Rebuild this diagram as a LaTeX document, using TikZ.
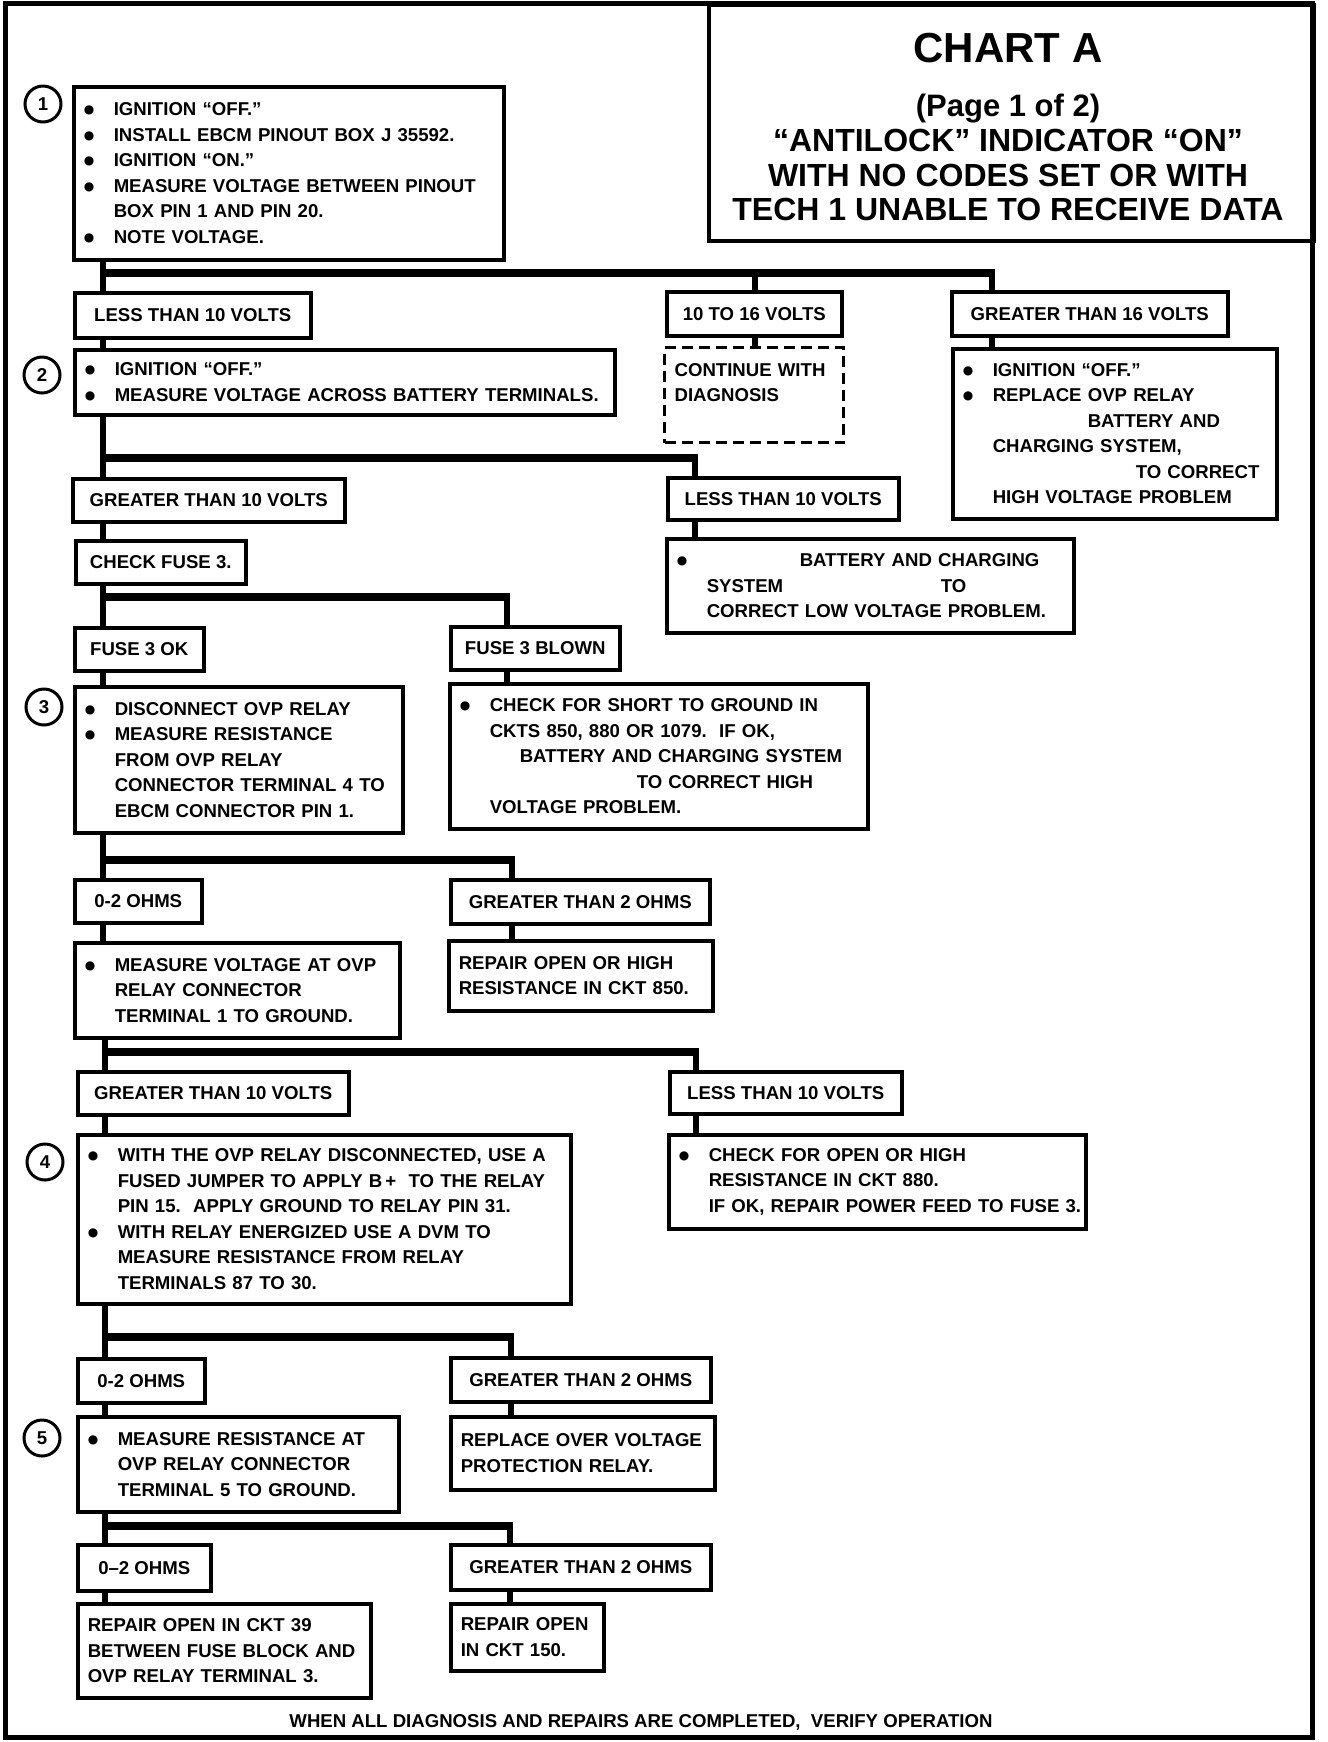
\documentclass[tikz,border=0pt]{standalone}
\usepackage{fontspec}
\setmainfont{Liberation Sans}
\newfontfamily\dejavu{DejaVu Sans}
\usetikzlibrary{calc}
\newcommand\BL[1]{\mbox{\makebox[15pt][l]{\raisebox{1pt}{\dejavu\fontsize{6}{6}\selectfont ●}}#1}}
\newcommand\CL[1]{\mbox{\hspace{15pt}#1}}
\newcommand\bx[7]{%
  \pgfmathsetlengthmacro\bxw{(#5-#3)*0.5pt}%
  \pgfmathsetlengthmacro\bxh{(#6-#4)*0.5pt}%
  \pgfmathsetlengthmacro\bxt{(#5-#3)*0.5pt-10pt}%
  \node[#2, anchor=north west, minimum width=\bxw, minimum height=\bxh, text width=\bxt] (#1) at (#3,#4) {#7};}
\newcommand\lb[6]{%
  \pgfmathsetlengthmacro\bxw{(#4-#2)*0.5pt}%
  \pgfmathsetlengthmacro\bxh{(#5-#3)*0.5pt}%
  \node[lbl, anchor=north west, minimum width=\bxw, minimum height=\bxh] (#1) at (#2,#3) {#6};}
\begin{document}
\begin{tikzpicture}[x=0.5pt,y=-0.5pt,
  every node/.style={font=\bfseries\fontsize{9.3}{12.75}\selectfont},
  box/.style={draw, line width=1.75pt, inner xsep=5pt, inner ysep=0pt, align=left},
  dbox/.style={box, dash pattern=on 5.5pt off 3pt, line width=1.6pt},
  lbl/.style={draw, line width=1.75pt, inner sep=0pt, align=center},
  num/.style={circle, draw, line width=1.5pt, minimum size=18pt, inner sep=0pt},
  vc/.style={line width=3.4pt},
  hb/.style={line width=4pt},
  frame/.style={line width=2.5pt},
  tbox/.style={draw, line width=2pt, inner sep=0pt}]
\useasboundingbox (0,0) rectangle (1328,1742);
\fill[white] (0,0) rectangle (1328,1742);
\draw[frame] (5,3) rectangle (1312,1737);

% title
\node[tbox, anchor=north west, minimum width=302.5pt, minimum height=118pt] (title) at (707,3) {};
\node[anchor=base, font=\bfseries\fontsize{21}{21}\selectfont] (t1) at (1008,62) {CHART A};
\node[anchor=base, font=\bfseries\fontsize{15.5}{15.5}\selectfont] (t2) at (1008,116) {(Page 1 of 2)};
\node[anchor=base, font=\bfseries\fontsize{16}{16}\selectfont] (t3) at (1008,151) {“ANTILOCK” INDICATOR “ON”};
\node[anchor=base, font=\bfseries\fontsize{16}{16}\selectfont] (t4) at (1008,186) {WITH NO CODES SET OR WITH};
\node[anchor=base, font=\bfseries\fontsize{16}{16}\selectfont] (t5) at (1008,220) {TECH 1 UNABLE TO RECEIVE DATA};

% step numbers
\node[num] (n1) at (43,104) {1};
\node[num] (n2) at (42,375) {2};
\node[num] (n3) at (44,707) {3};
\node[num] (n4) at (45,1162) {4};
\node[num] (n5) at (42,1438) {5};

% boxes
\bx{b1}{box}{72}{85}{502}{258}{\BL{IGNITION “OFF.”}\\ \BL{INSTALL EBCM PINOUT BOX J 35592.}\\ \BL{IGNITION “ON.”}\\ \BL{MEASURE VOLTAGE BETWEEN PINOUT}\\ \CL{BOX PIN 1 AND PIN 20.}\\ \BL{NOTE VOLTAGE.}}
\lb{lt10a}{73}{291}{309}{336}{LESS THAN 10 VOLTS}
\lb{v1016}{665}{290}{840}{334}{10 TO 16 VOLTS}
\lb{gt16}{950}{290}{1226}{334}{GREATER THAN 16 VOLTS}
\bx{cont}{dbox}{663}{346}{842}{441}{CONTINUE WITH\\DIAGNOSIS\\~}
\bx{gt16b}{box}{951}{347}{1275}{517}{\BL{IGNITION “OFF.”}\\ \BL{REPLACE OVP RELAY}\\ \CL{\hspace{47.5pt}BATTERY AND}\\ \CL{CHARGING SYSTEM,}\\ \CL{\hspace{71.5pt}TO CORRECT}\\ \CL{HIGH VOLTAGE PROBLEM}}
\bx{b2}{box}{73}{348}{613}{413}{\BL{IGNITION “OFF.”}\\ \BL{MEASURE VOLTAGE ACROSS BATTERY TERMINALS.}}
\lb{gt10a}{71}{477}{343}{520}{GREATER THAN 10 VOLTS}
\lb{lt10b}{666}{476}{897}{518}{LESS THAN 10 VOLTS}
\bx{lowb}{box}{665}{537}{1072}{631}{\BL{\hspace{46.5pt}BATTERY AND CHARGING}\\ \CL{\makebox[117pt][l]{SYSTEM}TO}\\ \CL{CORRECT LOW VOLTAGE PROBLEM.}}
\lb{fuse}{74}{539}{244}{582}{CHECK FUSE 3.}
\lb{f3ok}{73}{626}{202}{669}{FUSE 3 OK}
\lb{f3bl}{449}{625}{618}{668}{FUSE 3 BLOWN}
\bx{b3}{box}{73}{685}{401}{831}{\BL{DISCONNECT OVP RELAY}\\ \BL{MEASURE RESISTANCE}\\ \CL{FROM OVP RELAY}\\ \CL{CONNECTOR TERMINAL 4 TO}\\ \CL{EBCM CONNECTOR PIN 1.}}
\bx{blown}{box}{448}{682}{866}{827}{\BL{CHECK FOR SHORT TO GROUND IN}\\ \CL{CKTS 850, 880 OR 1079.\ \ IF OK,}\\ \CL{\hspace{15pt}BATTERY AND CHARGING SYSTEM}\\ \CL{\hspace{73.5pt}TO CORRECT HIGH}\\ \CL{VOLTAGE PROBLEM.}}
\lb{ohm1}{73}{878}{200}{921}{0-2 OHMS}
\lb{gt2a}{449}{878}{708}{922}{GREATER THAN 2 OHMS}
\bx{vb}{box}{73}{941}{398}{1036}{\BL{MEASURE VOLTAGE AT OVP}\\ \CL{RELAY CONNECTOR}\\ \CL{TERMINAL 1 TO GROUND.}}
\bx{r850}{box}{447}{939}{711}{1009}{REPAIR OPEN OR HIGH\\RESISTANCE IN CKT 850.}
\lb{gt10b}{76}{1070}{347}{1113}{GREATER THAN 10 VOLTS}
\lb{lt10c}{668}{1070}{900}{1112}{LESS THAN 10 VOLTS}
\bx{b4}{box}{76}{1133}{569}{1302}{\BL{WITH THE OVP RELAY DISCONNECTED, USE A}\\ \CL{FUSED JUMPER TO APPLY B\,+\ \ TO THE RELAY}\\ \CL{PIN 15.\ \ APPLY GROUND TO RELAY PIN 31.}\\ \BL{WITH RELAY ENERGIZED USE A DVM TO}\\ \CL{MEASURE RESISTANCE FROM RELAY}\\ \CL{TERMINALS 87 TO 30.}}
\bx{openb}{box}{667}{1133}{1084}{1227}{\BL{CHECK FOR OPEN OR HIGH}\\ \CL{RESISTANCE IN CKT 880.}\\ \CL{IF OK, REPAIR POWER FEED TO FUSE 3.}}
\lb{ohm2}{76}{1357}{203}{1401}{0-2 OHMS}
\lb{gt2b}{449}{1356}{709}{1400}{GREATER THAN 2 OHMS}
\bx{b5}{box}{76}{1415}{397}{1510}{\BL{MEASURE RESISTANCE AT}\\ \CL{OVP RELAY CONNECTOR}\\ \CL{TERMINAL 5 TO GROUND.}}
\bx{repl}{box}{449}{1415}{713}{1488}{REPLACE OVER VOLTAGE\\PROTECTION RELAY.}
\lb{ohm3}{76}{1543}{209}{1589}{0–2 OHMS}
\lb{gt2c}{449}{1543}{709}{1588}{GREATER THAN 2 OHMS}
\bx{r39}{box}{76}{1602}{369}{1696}{REPAIR OPEN IN CKT 39\\BETWEEN FUSE BLOCK AND\\OVP RELAY TERMINAL 3.}
\bx{r150}{box}{449}{1602}{602}{1669}{REPAIR OPEN\\IN CKT 150.}

\node[anchor=base] (foot) at (641,1727) {WHEN ALL DIAGNOSIS AND REPAIRS ARE COMPLETED,\ \ VERIFY OPERATION};

% connector coordinates
\coordinate (tA) at (103,0);
\coordinate (tB) at (105,0);
\coordinate (j1) at (103,273);
\coordinate (j2) at (103,458);
\coordinate (j3) at (103,597);
\coordinate (j4) at (103,860);
\coordinate (j5) at (105,1052);
\coordinate (j6) at (105,1337);
\coordinate (j7) at (105,1526);
\coordinate (d1b) at (755,0);
\coordinate (d1c) at (992,0);
\coordinate (d2) at (695,0);
\coordinate (d3) at (507,0);
\coordinate (d4) at (512,0);
\coordinate (d5) at (696,0);
\coordinate (d6) at (511,0);
\coordinate (d7) at (510,0);

% section 1
\draw[vc] (b1.south -| tA) -- (lt10a.north -| tA);
\draw[hb] (j1) -- (j1 -| d1c);
\draw[vc] (j1 -| d1b) -- (v1016.north -| d1b);
\draw[vc] ([yshift=2pt]j1 -| d1c) -- (gt16.north -| d1c);
\draw[vc] (v1016.south -| d1b) -- (cont.north -| d1b);
\draw[vc] (gt16.south -| d1c) -- (gt16b.north -| d1c);
\draw[vc] (lt10a.south -| tA) -- (b2.north -| tA);
% section 2
\draw[vc] (b2.south -| tA) -- (gt10a.north -| tA);
\draw[hb] (j2) -- (j2 -| d2);
\draw[vc] ([yshift=2pt]j2 -| d2) -- (lt10b.north -| d2);
\draw[vc] (lt10b.south -| d2) -- (lowb.north -| d2);
\draw[vc] (gt10a.south -| tA) -- (fuse.north -| tA);
% section 3
\draw[vc] (fuse.south -| tA) -- (f3ok.north -| tA);
\draw[hb] (j3) -- (j3 -| d3);
\draw[vc] ([yshift=2pt]j3 -| d3) -- (f3bl.north -| d3);
\draw[vc] (f3bl.south -| d3) -- (blown.north -| d3);
\draw[vc] (f3ok.south -| tA) -- (b3.north -| tA);
% section 4
\draw[vc] (b3.south -| tA) -- (ohm1.north -| tA);
\draw[hb] (j4) -- (j4 -| d4);
\draw[vc] ([yshift=2pt]j4 -| d4) -- (gt2a.north -| d4);
\draw[vc] (gt2a.south -| d4) -- (r850.north -| d4);
\draw[vc] (ohm1.south -| tA) -- (vb.north -| tA);
% section 5
\draw[vc] (vb.south -| tB) -- (gt10b.north -| tB);
\draw[hb] (j5) -- (j5 -| d5);
\draw[vc] ([yshift=2pt]j5 -| d5) -- (lt10c.north -| d5);
\draw[vc] (lt10c.south -| d5) -- (openb.north -| d5);
\draw[vc] (gt10b.south -| tB) -- (b4.north -| tB);
% section 6
\draw[vc] (b4.south -| tB) -- (ohm2.north -| tB);
\draw[hb] (j6) -- (j6 -| d6);
\draw[vc] ([yshift=2pt]j6 -| d6) -- (gt2b.north -| d6);
\draw[vc] (gt2b.south -| d6) -- (repl.north -| d6);
\draw[vc] (ohm2.south -| tB) -- (b5.north -| tB);
% section 7
\draw[vc] (b5.south -| tB) -- (ohm3.north -| tB);
\draw[hb] (j7) -- (j7 -| d7);
\draw[vc] ([yshift=2pt]j7 -| d7) -- (gt2c.north -| d7);
\draw[vc] (gt2c.south -| d7) -- (r150.north -| d7);
\draw[vc] (ohm3.south -| tB) -- (r39.north -| tB);
\end{tikzpicture}
\end{document}
